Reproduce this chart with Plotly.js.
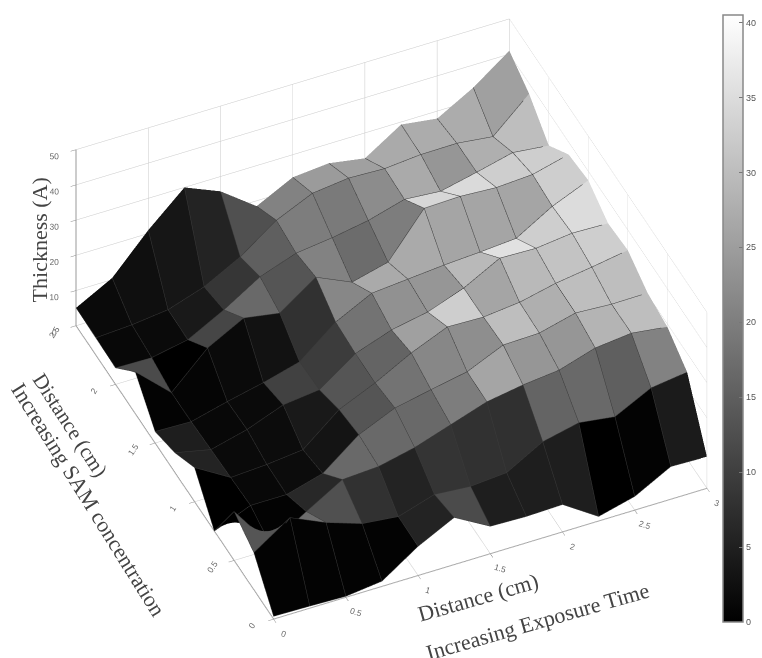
<!DOCTYPE html>
<html><head><meta charset="utf-8">
<script src="https://cdn.plot.ly/plotly-3.0.1.min.js"></script>
<style>html,body{margin:0;padding:0;background:#fff}#chart{width:762px;height:658px}</style>
</head><body><div id="chart"></div>
<script>
const exposureCm = [0,0.25,0.5,0.75,1,1.25,1.5,1.75,2,2.25,2.5,2.75,3];
const samCm = [0,0.25,0.5,0.75,1,1.25,1.5,1.75,2,2.25,2.5];
const thicknessA = [
 [0.8,0.6,0.3,1.5,8.3,13.4,7.8,7.5,7.8,1.3,3.9,9.3,9],
 [10.6,17.4,12.9,9.5,8.4,11.6,10.8,11.6,17.3,19.6,18.2,23.3,24.7],
 [13.9,1.5,7.7,13.7,14.3,16.6,20,23.4,25.1,26.2,29.4,30.5,29.2],
 [0,4.2,4.2,7.1,15,19.5,21.6,23.6,28.1,28.4,31,30.4,30.5],
 [9.7,3.8,4.4,5.5,13.8,18.3,23.7,28,27.7,28.8,31.1,32.6,34.3],
 [5.6,3.4,6,9.9,11.1,18.3,21.9,23.9,27.6,33,32.7,33.9,33.6],
 [3.3,3,5.6,7.9,10.7,18.9,24,24.9,25.8,26.4,27.2,33.2,37.5],
 [11.9,2.9,12.5,17.9,16.2,23.3,18.8,21.4,33.6,33.9,33.3,33.9,36.5],
 [4.7,4.5,6.5,11.9,18.2,21.8,23.1,24.9,27.8,27,29.3,31.8,30.7],
 [4.9,5.5,6.7,10.1,15.5,22.8,27.4,28.6,28.2,29.1,29.2,28,37.1],
 [5.1,10.5,21,30,25.8,18.5,23.6,24.5,22.8,29.3,27.9,33.6,41]
];
const faceColor = [
 [0.5,0.5,0.5,0.5,5.6,11.9,4.8,4.8,4.8,0,0.5,4.4],
 [13.5,17.5,12.7,7.9,5.6,8.3,7.9,7.6,15.9,16.7,15.1,20.6],
 [0,0.5,6.4,16.7,16.7,16.7,19.9,26.2,23.8,23.8,28.6,30.2],
 [0,1.3,1.9,3.2,13.5,18.3,21.4,22.5,30.2,27.8,30.2,30.2],
 [5.6,1.6,1.9,4,13.5,15.9,25.4,32.6,26.2,29.4,31,32.6],
 [4.8,1.3,1.6,10.3,9.5,18.3,23,23.8,29.4,35.7,32.6,34.9],
 [0.5,0.8,1.6,2.9,7.9,21.4,27,27,26.2,26.2,26.2,32.6],
 [11.9,0,11.1,16.7,13.5,20.6,17.2,19.9,34.1,34.6,32.6,32.6],
 [1.3,1.6,4,8.7,15.1,19.9,19.4,22.2,27,23.8,27.8,30.2],
 [1.6,2.5,3.5,5.6,12.7,20.6,24.6,25.4,27,27.3,27.3,25.4]
];
// each face gets its own flat colour: every interior grid line is repeated
const dup = a => a.flatMap((v,i) => (i===0||i===a.length-1) ? [v] : [v,v]);
const xF = dup(exposureCm), yF = dup(samCm);
const zF = dup(thicknessA.map(dup));
const cF = yF.map((_,j) => xF.map((_,i) => faceColor[Math.floor(j/2)][Math.floor(i/2)]));

const px = v => v/762, py = v => 1-v/658;
const txt = (t,x,y,a,s) => ({text:t,xref:'paper',yref:'paper',x:px(x),y:py(y),textangle:a,showarrow:false,
  xanchor:'center',yanchor:'middle',font:{family:'"Liberation Serif",serif',size:s,color:'#444'}});
const axis = (r,d,ang,len) => ({range:r,dtick:d,tick0:0,autorange:false,showbackground:false,showspikes:false,
  gridcolor:'#c8c8c8',gridwidth:1,zeroline:false,showline:true,linecolor:'#999',linewidth:2,tickangle:ang,
  ticks:'outside',ticklen:len,tickcolor:'#888',tickfont:{family:'Liberation Sans',size:10,color:'#666'},title:{text:''}});
const zAxis = Object.assign(axis([0,50],10,0,1),{tickprefix:'\u00a0\u00a0\u00a0\u00a0\u00a0'});

Plotly.newPlot('chart',[{
  type:'surface',x:xF,y:yF,z:zF,surfacecolor:cF,cmin:0,cmax:40.5,
  colorscale:[[0,'#000'],[1,'#fff']],
  lighting:{ambient:1,diffuse:0,specular:0,fresnel:0,roughness:1},
  hoverinfo:'skip',
  contours:{
    x:{show:true,start:0,end:3,size:0.25,color:'#3a3a3a',width:3},
    y:{show:true,start:0,end:2.5,size:0.25,color:'#3a3a3a',width:3},
    z:{show:false}},
  colorbar:{x:px(734),xanchor:'left',y:py(15),yanchor:'top',lenmode:'pixels',len:607,thicknessmode:'pixels',thickness:20,
    xpad:0,ypad:0,outlinecolor:'#888',outlinewidth:1.5,ticks:'inside',ticklen:4,tickcolor:'#777',tick0:0,dtick:5,
    tickfont:{family:'Liberation Sans',size:9,color:'#555'}}
}],{
  width:762,height:658,margin:{l:0,r:0,t:0,b:0},paper_bgcolor:'#fff',showlegend:false,
  scene:{domain:{x:[32/762,1],y:[20/658,1]},
    aspectmode:'manual',aspectratio:{x:1.49,y:1.507,z:0.743},
    camera:{projection:{type:'orthographic'},up:{x:0,y:0,z:1},center:{x:0,y:0,z:0},
      eye:{x:-0.3053*1.5,y:-0.6772*1.5,z:0.6695*1.5}},
    xaxis:axis([0,3],0.5,17,6),yaxis:axis([0,2.5],0.5,-56,6),zaxis:zAxis},
  annotations:[
    txt('Thickness (A)',40,240,-90,22),
    txt('Distance (cm)',71,425,57,21),
    txt('Increasing SAM concentration',90,499,58,22),
    txt('Distance (cm)',485,597,-16,22),
    txt('Increasing Exposure Time',545,621,-16,22)
  ]
},{displayModeBar:false});
</script></body></html>
